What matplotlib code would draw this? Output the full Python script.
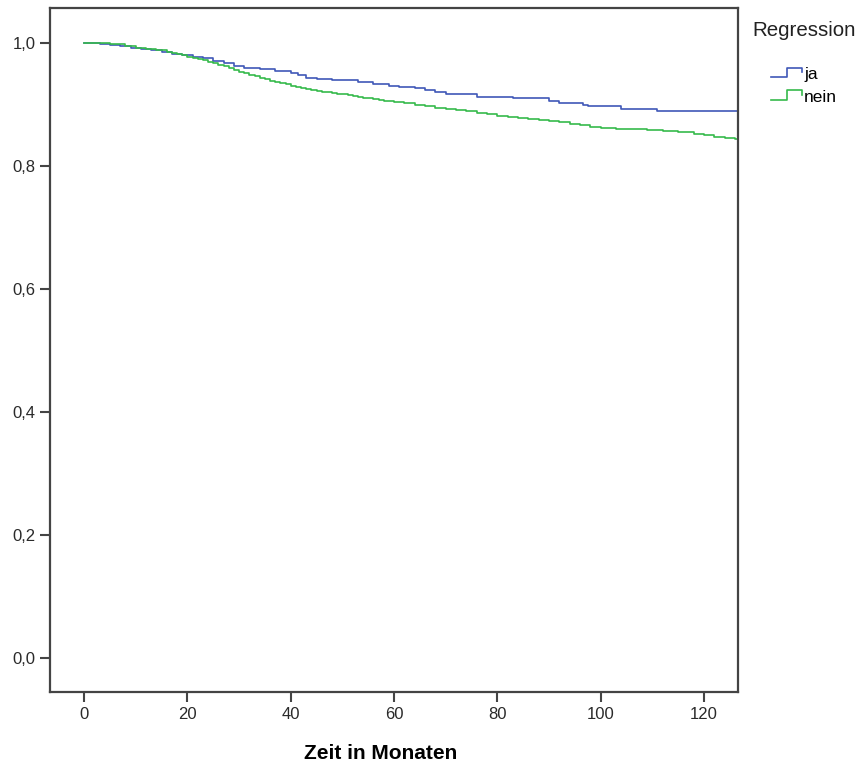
import matplotlib
matplotlib.use("Agg")
import matplotlib.pyplot as plt
from matplotlib.lines import Line2D
from matplotlib.legend_handler import HandlerBase

# Kaplan-Meier estimates (months, cumulative survival)
ja_months = [0, 3, 5, 7, 9, 11, 13, 15, 17, 19, 21, 23, 25, 27, 29, 31, 34, 37,
             40, 41.5, 43, 45, 48, 53, 56, 59, 61, 64, 66, 68, 70, 76, 83, 90,
             92, 96.5, 97.5, 104, 111, 126.6]
ja_surv = [1.0, 0.999, 0.997, 0.995, 0.992, 0.990, 0.988, 0.986, 0.983, 0.981,
           0.978, 0.975, 0.971, 0.967, 0.963, 0.960, 0.958, 0.955, 0.952, 0.948,
           0.944, 0.942, 0.940, 0.936, 0.934, 0.931, 0.929, 0.927, 0.924, 0.921,
           0.917, 0.913, 0.910, 0.906, 0.902, 0.899, 0.897, 0.892, 0.889, 0.889]

nein_months = [0, 5, 8, 10, 12, 14, 16, 17, 18, 19, 20, 21, 22, 23, 24, 25, 26,
               27, 28, 29, 30, 31, 32, 33, 34, 35, 36, 37, 38, 39, 40, 41, 42,
               43, 44, 45, 46, 47, 48, 49, 50, 51, 52, 53, 54, 55, 56, 57, 58,
               59, 60, 62, 64, 66, 68, 70, 72, 74, 76, 78, 80, 82, 84, 86, 88,
               90, 92, 94, 96, 98, 100, 103, 106, 109, 112, 115, 118, 120, 122,
               124, 126, 126.6]
nein_surv = [1.0, 0.998, 0.995, 0.992, 0.990, 0.988, 0.985, 0.984, 0.982, 0.980,
             0.978, 0.976, 0.974, 0.972, 0.969, 0.967, 0.964, 0.962, 0.959, 0.956,
             0.953, 0.951, 0.948, 0.946, 0.944, 0.941, 0.939, 0.937, 0.935, 0.933,
             0.930, 0.928, 0.927, 0.925, 0.924, 0.922, 0.921, 0.920, 0.919, 0.918,
             0.917, 0.915, 0.914, 0.913, 0.911, 0.910, 0.909, 0.907, 0.906, 0.905,
             0.904, 0.902, 0.900, 0.897, 0.895, 0.893, 0.891, 0.889, 0.887, 0.884,
             0.882, 0.880, 0.878, 0.877, 0.875, 0.873, 0.871, 0.869, 0.866, 0.864,
             0.862, 0.861, 0.860, 0.859, 0.857, 0.855, 0.852, 0.850, 0.848, 0.846,
             0.844, 0.844]

x_ticks = [0, 20, 40, 60, 80, 100, 120]
y_ticks = [0.0, 0.2, 0.4, 0.6, 0.8, 1.0]

color_ja = '#4058b8'
color_nein = '#36ba4c'
spine_col = '#444444'


class StepHandler(HandlerBase):
    '''legend key drawn as a small step, like the survival curves'''
    def create_artists(self, legend, orig_handle, xdescent, ydescent,
                       width, height, fontsize, trans):
        x0 = -xdescent
        y0 = -ydescent
        xb = x0 + 0.5 * width
        xc = x0 + width
        xs = [x0, xb, xb, xc, xc]
        ys = [y0 + 0.1 * height, y0 + 0.1 * height, y0 + 1.0 * height,
              y0 + 1.0 * height, y0 + 0.55 * height]
        line = Line2D(xs, ys, color=orig_handle.get_color(),
                      lw=orig_handle.get_linewidth(), transform=trans)
        return [line]


plt.rcParams['font.family'] = ['Liberation Sans', 'DejaVu Sans']

fig = plt.figure(figsize=(8.63, 7.71), dpi=100)
ax = fig.add_axes([50 / 863, 79 / 771, 688 / 863, 684 / 771])

l_ja, = ax.plot(ja_months, ja_surv, drawstyle='steps-post', color=color_ja, lw=1.2)
l_nein, = ax.plot(nein_months, nein_surv, drawstyle='steps-post', color=color_nein, lw=1.2)

ax.set_xlim(-6.6, 126.6)
ax.set_ylim(-0.055, 1.057)
ax.set_xticks(x_ticks)
ax.set_yticks(y_ticks)
ax.set_yticklabels([('%.1f' % v).replace('.', ',') for v in y_ticks])
ax.tick_params(length=7, width=1.5, color=spine_col, labelsize=12, labelcolor='#2a2a2a')
for s in ax.spines.values():
    s.set_color(spine_col)
    s.set_linewidth(1.6)
ax.set_xlabel('Zeit in Monaten', fontsize=15, fontweight='bold')
ax.xaxis.set_label_coords(0.48, -0.076)

# legend: title on its own, keys indented below it
fig.text(752 / 863, 1 - 31 / 771, 'Regression', fontsize=14.8, va='center', ha='left',
         color='#222222')
leg = fig.legend([l_ja, l_nein], ['ja', 'nein'],
                 loc='upper left', bbox_to_anchor=(759 / 863, 1 - 55 / 771),
                 frameon=False, handler_map={Line2D: StepHandler()},
                 handlelength=1.8, handleheight=0.6, handletextpad=0.1,
                 labelspacing=0.45, fontsize=12.5, borderpad=0.2)

fig.savefig('out.png', dpi=100)
